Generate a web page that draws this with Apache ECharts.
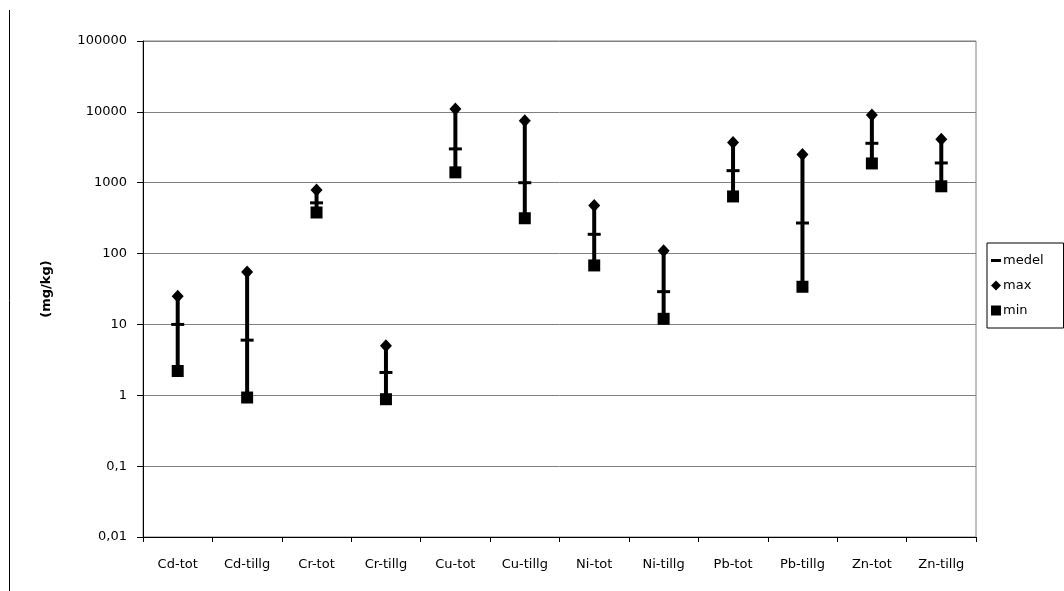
<!DOCTYPE html>
<html>
<head>
<meta charset="utf-8">
<script src="https://cdn.jsdelivr.net/npm/echarts@6/dist/echarts.min.js"></script>
<style>
  html, body { margin: 0; padding: 0; background: #fff; }
  #chart { width: 1064px; height: 591px; }
</style>
</head>
<body>
<div id="chart"></div>
<script>
// Metal concentrations (mg/kg): mean, max and min per substance
const categories = ['Cd-tot', 'Cd-tillg', 'Cr-tot', 'Cr-tillg', 'Cu-tot', 'Cu-tillg',
                    'Ni-tot', 'Ni-tillg', 'Pb-tot', 'Pb-tillg', 'Zn-tot', 'Zn-tillg'];
const medelValues = [10, 6, 520, 2.1, 3000, 1000, 187, 29, 1480, 270, 3600, 1900];
const maxValues   = [25, 55, 790, 5, 11000, 7500, 475, 110, 3700, 2500, 9000, 4100];
const minValues   = [2.2, 0.93, 380, 0.88, 1400, 315, 68, 12, 640, 34, 1870, 890];
const yTicks = ['0,01', '0,1', '1', '10', '100', '1000', '10000', '100000'];

const FONT = 'DejaVu Sans';

// rows for the custom range bars: [categoryIndex, min, max]
const rangeRows = categories.map((c, i) => [i, minValues[i], maxValues[i]]);

const markerStyle = { color: '#000', opacity: 1 };

const chart = echarts.init(document.getElementById('chart'), null, { renderer: 'canvas' });

chart.setOption({
  animation: false,
  backgroundColor: '#fff',
  textStyle: { fontFamily: FONT, color: '#000' },
  grid: {
    left: 143, right: 88, top: 41, bottom: 54,
    show: true, borderColor: '#808080', borderWidth: 1
  },
  legend: {
    orient: 'vertical',
    left: 987, top: 243,
    padding: [11, 20, 11, 4],
    itemGap: 12,
    itemWidth: 10, itemHeight: 10,
    borderColor: '#000', borderWidth: 1,
    backgroundColor: '#fff',
    selectedMode: false,
    textStyle: { fontFamily: FONT, fontSize: 13, color: '#000', padding: [0, 0, 0, -3] },
    data: [
      { name: 'medel', icon: 'path://M0,0H10V3H0Z' },
      { name: 'max', icon: 'diamond' },
      { name: 'min', icon: 'rect' }
    ]
  },
  xAxis: {
    type: 'category',
    data: categories,
    boundaryGap: true,
    axisLine: { lineStyle: { color: '#000', width: 1 } },
    axisTick: { show: true, length: 5, alignWithLabel: false, lineStyle: { color: '#000' } },
    axisLabel: { fontFamily: FONT, fontSize: 13, color: '#000', margin: 21, interval: 0 },
    splitLine: { show: false }
  },
  yAxis: {
    type: 'log',
    logBase: 10,
    min: 0.01,
    max: 100000,
    name: '(mg/kg)',
    nameLocation: 'middle',
    nameGap: 90,
    nameRotate: 90,
    nameTextStyle: { fontFamily: FONT, fontSize: 13, fontWeight: 'bold', color: '#000' },
    axisLine: { show: true, lineStyle: { color: '#000', width: 1 } },
    axisTick: { show: true, length: 6, inside: false, lineStyle: { color: '#000' } },
    axisLabel: {
      fontFamily: FONT, fontSize: 13, color: '#000', margin: 16,
      formatter: function (v) {
        const e = Math.round(Math.log10(v)) + 2;
        return yTicks[e] !== undefined ? yTicks[e] : '';
      }
    },
    splitLine: { show: true, lineStyle: { color: '#808080', width: 1 } },
    minorTick: { show: false }
  },
  series: [
    {
      name: 'range',
      type: 'custom',
      z: 1,
      silent: true,
      encode: { x: 0, y: [1, 2] },
      data: rangeRows,
      renderItem: function (params, api) {
        const lo = api.coord([api.value(0), api.value(1)]);
        const hi = api.coord([api.value(0), api.value(2)]);
        return {
          type: 'line',
          shape: { x1: lo[0], y1: lo[1], x2: hi[0], y2: hi[1] },
          style: { stroke: '#000', lineWidth: 4 }
        };
      }
    },
    {
      name: 'medel',
      type: 'scatter',
      z: 3,
      data: medelValues,
      symbol: 'rect',
      symbolSize: [13, 3],
      itemStyle: markerStyle,
      emphasis: { disabled: true }
    },
    {
      name: 'max',
      type: 'scatter',
      z: 3,
      data: maxValues,
      symbol: 'diamond',
      symbolSize: [12, 13],
      itemStyle: markerStyle,
      emphasis: { disabled: true }
    },
    {
      name: 'min',
      type: 'scatter',
      z: 3,
      data: minValues,
      symbol: 'rect',
      symbolSize: 12,
      itemStyle: markerStyle,
      emphasis: { disabled: true }
    }
  ],
  graphic: [
    {
      type: 'line',
      shape: { x1: 9.5, y1: 10, x2: 9.5, y2: 591 },
      style: { stroke: '#000', lineWidth: 1 }
    }
  ]
});
</script>
</body>
</html>
